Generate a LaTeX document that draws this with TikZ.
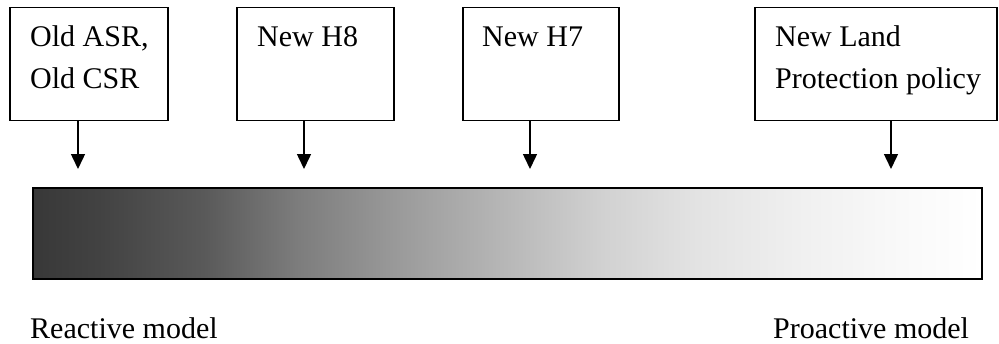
\documentclass[tikz,border=0pt]{standalone}
\usepackage{fontspec}
\setmainfont{Liberation Serif}
\usetikzlibrary{arrows.meta}

% Grey ramp from dark (left) to white (right); stops lie in the middle 25bp--75bp band
\pgfdeclarehorizontalshading{ramp}{100bp}{%
  color(0bp)=(white!22!black);
  color(25bp)=(white!22!black);
  color(28.5bp)=(white!26!black);
  color(34bp)=(white!35!black);
  color(39bp)=(white!49!black);
  color(44.5bp)=(white!61!black);
  color(49.5bp)=(white!71!black);
  color(55bp)=(white!82!black);
  color(60bp)=(white!89!black);
  color(65.5bp)=(white!94!black);
  color(70.5bp)=(white!97.5!black);
  color(75bp)=(white);
  color(100bp)=(white)}

\tikzset{
  box/.style={draw=black, line width=1.5pt, rectangle, inner sep=0pt,
              minimum height=113pt},
  lbl/.style={anchor=base west, inner sep=0pt, align=left,
              font=\fontsize{30}{42}\selectfont},
  pointer/.style={line width=1.5pt, -{Triangle[length=15pt,width=14pt]}},
  rampbar/.style={draw=black, line width=1.5pt, shading=ramp, rectangle,
                inner sep=0pt, minimum width=949pt, minimum height=91pt}
}

\begin{document}
\begin{tikzpicture}[x=1pt, y=-1pt]
  \useasboundingbox (0,0) rectangle (999,343);

  % input boxes
  \node[box, minimum width=158pt] (b1) at (89,64) {};
  \node[box, minimum width=157pt] (b2) at (315.5,64) {};
  \node[box, minimum width=156pt] (b3) at (541,64) {};
  \node[box, minimum width=242pt] (b4) at (876,64) {};

  % labels: the base anchor sits on the last line's baseline
  \node[lbl] (t1) at (30,88.5) {Old ASR,\\Old CSR};
  \node[lbl] (t2) at (257,46.5) {New H8};
  \node[lbl] (t3) at (482,46.5) {New H7};
  \node[lbl] (t4) at (775,88.5) {New Land\\Protection policy};

  % arrow tips above the ramp
  \coordinate (p1) at (78,169);
  \coordinate (p2) at (304,169);
  \coordinate (p3) at (530,169);
  \coordinate (p4) at (891,169);

  \draw[pointer] (b1.south -| p1) -- (p1);
  \draw[pointer] (b2.south -| p2) -- (p2);
  \draw[pointer] (b3.south -| p3) -- (p3);
  \draw[pointer] (b4.south -| p4) -- (p4);

  % reactive-to-proactive ramp
  \node[rampbar] (bar) at (507.5,233.5) {};

  \node[lbl] (lo) at (30,338.5) {Reactive model};
  \node[lbl] (hi) at (773,338.5) {Proactive model};
\end{tikzpicture}
\end{document}
